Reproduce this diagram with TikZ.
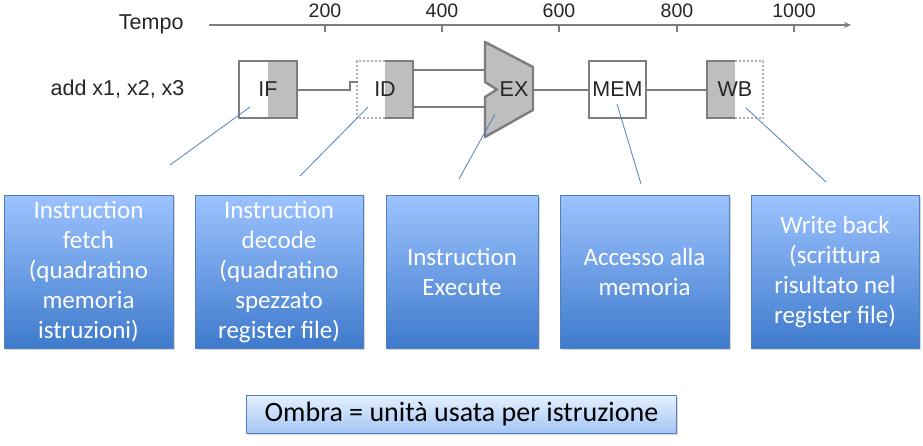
\documentclass[tikz,border=0pt]{standalone}
\usepackage{fontspec}
\setmainfont{Carlito}
\newfontfamily\helv{Liberation Sans}
\usetikzlibrary{arrows.meta,shadows}

\definecolor{stagegray}{RGB}{190,190,190}
\definecolor{stageline}{RGB}{125,125,125}
\definecolor{calloutblue}{RGB}{79,129,189}
\definecolor{boxtop}{RGB}{157,195,255}
\definecolor{boxbot}{RGB}{62,122,204}
\definecolor{legtop}{RGB}{228,240,255}
\definecolor{legbot}{RGB}{165,198,245}

\begin{document}
\begin{tikzpicture}[x=1pt,y=-1pt,
    wire/.style={draw=stageline, line width=2pt},
    solidedge/.style={draw=stageline, line width=2.4pt},
    dashedge/.style={draw=stageline!60, line width=2pt, dash pattern=on 2pt off 2pt},
    stagelbl/.style={font=\helv\fontsize{21.5}{21.5}\selectfont, text=black!85},
    stagebox/.style={minimum width=57pt, minimum height=57pt, inner sep=0pt, stagelbl},
    shaderight/.style={path picture={\fill[stagegray] (path picture bounding box.north) rectangle (path picture bounding box.south east);}},
    shadeleft/.style={path picture={\fill[stagegray] (path picture bounding box.north west) rectangle (path picture bounding box.south);}},
    callout/.style={draw=calloutblue, line width=0.8pt},
    descbox/.style={draw=calloutblue, line width=0.8pt, top color=boxtop, bottom color=boxbot,
        text=white, align=center, font=\fontsize{25}{30}\selectfont, minimum height=153pt, inner sep=0pt,
        drop shadow={opacity=0.3, shadow xshift=1.5pt, shadow yshift=-2pt}}]
    \useasboundingbox (0,0) rectangle (923,445);

    % asse dei tempi
    \draw [draw=stageline, line width=1.8pt, -{Stealth[length=7pt,width=6pt]}] (209,25) -- (851,25);
    \foreach \t/\x in {200/325,400/442,600/559,800/677,1000/794} {
        \draw [draw=stageline, line width=1.5pt] (\x,25) -- (\x,32);
        \node [stagelbl, font=\helv\fontsize{19.5}{19.5}\selectfont, anchor=base] (tk\t) at (\x,17) {\t};
    }
    \node [stagelbl, anchor=base east] (tempo) at (187,29) {Tempo};
    \node [stagelbl, anchor=east] (instr) at (188,89) {add x1, x2, x3};

    % stadi della pipeline
    \node [stagebox, shaderight, minimum width=58pt, solidedge] (ifbox) at (268,89.5) {IF};
    \node [stagebox, shaderight, minimum width=56pt] (idbox) at (385,89.5) {ID};
    \draw [solidedge] (idbox.north) -- (idbox.north east) -- (idbox.south east) -- (idbox.south);
    \draw [dashedge] (idbox.north) -- (idbox.north west) -- (idbox.south west) -- (idbox.south);
    \draw [wire] (ifbox.east) -- ++(52,0) -- ++(0,-8) -- ++(8,0);

    \filldraw [fill=stagegray, solidedge, line join=round]
        (485,42) -- (533,67) -- (533,110) -- (485,137) -- (485,97) -- (497,89.5) -- (485,82) -- cycle;
    \node [stagelbl] (exlbl) at (514,89.5) {EX};
    \coordinate (exa) at (485,70);
    \coordinate (exb) at (485,107);
    \coordinate (exout) at (533,89.5);
    \draw [wire] (exa -| idbox.east) -- (exa);
    \draw [wire] (exb -| idbox.east) -- (exb);

    \node [stagebox, solidedge, fill=white] (membox) at (617.5,89.5) {MEM};
    \node [stagebox, shadeleft, minimum width=56pt] (wbbox) at (735,89.5) {WB};
    \draw [solidedge] (wbbox.north) -- (wbbox.north west) -- (wbbox.south west) -- (wbbox.south);
    \draw [dashedge] (wbbox.north) -- (wbbox.north east) -- (wbbox.south east) -- (wbbox.south);
    \draw [wire] (exout) -- (membox.west);
    \draw [wire] (membox.east) -- (wbbox.west);

    % descrizioni
    \node [descbox, minimum width=169pt] (ifdesc) at (88.5,271.5) {Instruction\\fetch\\(quadratino\\memoria\\istruzioni)};
    \node [descbox, minimum width=168pt] (iddesc) at (279,271.5) {Instruction\\decode\\(quadratino\\spezzato\\register file)};
    \node [descbox, minimum width=152pt] (exdesc) at (462,271.5) {Instruction\\Execute};
    \node [descbox, minimum width=169pt] (memdesc) at (644.5,271.5) {Accesso alla\\memoria};
    \node [descbox, minimum width=168pt] (wbdesc) at (835,271.5) {Write back\\(scrittura\\risultato nel\\register file)};

    % richiami
    \foreach \a/\b/\c/\d [count=\i] in {170/165/250/107, 300/176/368/107, 459/179/495/114, 641/184/617/104, 826/182/746/108} {
        \draw [callout] (\a,\b) coordinate (cs\i) -- (\c,\d) coordinate (ce\i);
    }

    \node [draw=calloutblue, line width=0.8pt, top color=legtop, bottom color=legbot,
        minimum width=430pt, minimum height=38pt, inner sep=0pt, font=\fontsize{28}{28}\selectfont,
        drop shadow={opacity=0.3, shadow xshift=1.5pt, shadow yshift=-2pt}] (legend) at (461.5,414) {Ombra = unità usata per istruzione};
\end{tikzpicture}
\end{document}
